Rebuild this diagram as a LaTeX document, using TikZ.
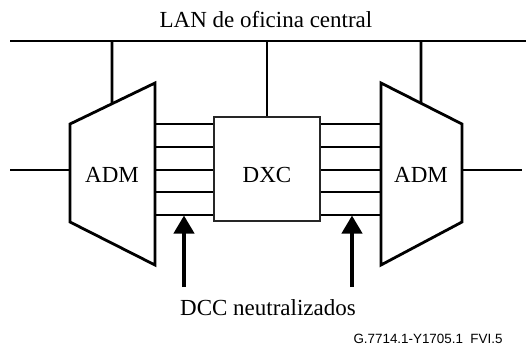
\documentclass[tikz,border=0pt]{standalone}
\usepackage{fontspec}
\setmainfont{Liberation Serif}
\newfontfamily\figfont{Liberation Sans}
\usetikzlibrary{arrows.meta,calc}

\begin{document}
\begin{tikzpicture}[
x=0.5pt, y=-0.5pt,
line width=1.4pt,
lbl/.style={font=\fontsize{11.5}{13}\selectfont, inner sep=0pt},
xcbox/.style={draw=black!85, line width=1.1pt, minimum width=53pt, minimum height=52pt, inner sep=0pt},
dccarrow/.style={line width=2pt, -{Triangle[width=10pt,length=9pt]}},
]
\useasboundingbox (0,0) rectangle (526,349);
% office LAN
\node[lbl] (lan) at (266,20) {LAN de oficina central};
\coordinate (busW) at (10,41);
\coordinate (busE) at (526,41);
\draw (busW) -- (busE);
% left ADM
\coordinate (la) at (70,124);
\coordinate (lb) at (155,83);
\coordinate (lc) at (155,265);
\coordinate (ld) at (70,222);
\draw (la) -- (lb) -- (lc) -- (ld) -- cycle;
\node[lbl] (admL) at (112,175) {ADM};
% right ADM
\coordinate (ra) at (381,83);
\coordinate (rb) at (462,124);
\coordinate (rc) at (462,222);
\coordinate (rd) at (381,265);
\draw (ra) -- (rb) -- (rc) -- (rd) -- cycle;
\node[lbl] (admR) at (421,175) {ADM};
% cross connect
\node[xcbox] (dxc) at (267,169) {};
\node[lbl] (dxclbl) at (267,175) {DXC};
% drops from the LAN
\coordinate (tapL) at (112,41);
\coordinate (tapC) at (267,41);
\coordinate (tapR) at (421,41);
\draw (tapL) -- ($(la)!0.494!(lb)$);
\draw (tapC) -- (dxc.north);
\draw (tapR) -- ($(ra)!0.494!(rb)$);
% tributaries
\foreach \y in {124,147,170,192,215} {
  \draw (155,\y) -- (dxc.west |- 0,\y);
  \draw (dxc.east |- 0,\y) -- (381,\y);
}
% line side
\coordinate (lineW) at (10,170);
\coordinate (lineE) at (522,170);
\draw (lineW) -- (70,170);
\draw (462,170) -- (lineE);
% disabled DCC
\coordinate (arrL) at (184,287);
\coordinate (arrR) at (352,287);
\draw[dccarrow] (arrL) -- (184,215.5);
\draw[dccarrow] (arrR) -- (352,215.5);
\node[lbl] (dcc) at (268,308) {DCC neutralizados};
\node[font=\figfont\fontsize{6.7}{8}\selectfont, inner sep=0pt] (figid) at (428,339) {G.7714.1-Y1705.1\ \ FVI.5};
\end{tikzpicture}
\end{document}
